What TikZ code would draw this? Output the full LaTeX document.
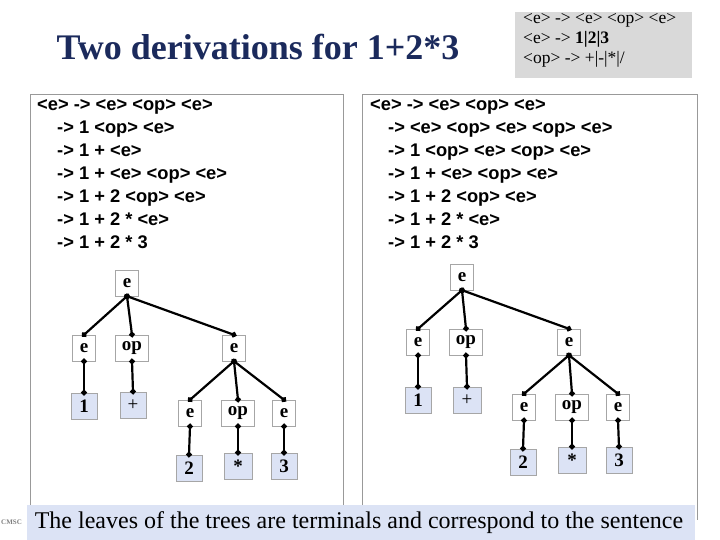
\documentclass[tikz,border=0pt]{standalone}
\usepackage{fontspec}
\setmainfont{Liberation Serif}
\setsansfont{Liberation Sans}
\usetikzlibrary{arrows.meta}
\definecolor{navy}{HTML}{1B2A5C}
\definecolor{leafblue}{HTML}{DCE3F5}
\definecolor{gbox}{HTML}{D9D9D9}
\tikzset{
  tn/.style={draw=gray!70, fill=white, inner sep=0pt, minimum height=26pt, font=\fontsize{19}{19}\selectfont\bfseries},
  en/.style={tn, minimum width=23pt},
  on/.style={tn, minimum width=33pt},
  ln/.style={tn, fill=leafblue, minimum width=26pt},
  edge/.style={line width=2.2pt, shorten <=-2.5pt, shorten >=-2.5pt, {Circle[length=5.5pt]}-{Circle[length=5.5pt]}},
  der/.style={anchor=north west, inner sep=0pt, align=left, font=\sffamily\bfseries\fontsize{18.3}{23}\selectfont},
  panel/.style={draw=gray!80, line width=1pt}
}
\begin{document}
\begin{tikzpicture}[x=1pt,y=-1pt]
\useasboundingbox (0,0) rectangle (720,540);
\fill[white] (0,0) rectangle (720,540);
\node[font=\fontsize{36}{36}\selectfont\bfseries, text=navy] (title) at (258,47) {Two derivations for 1+2*3};
\fill[gbox] (515,12) rectangle (692,78);
\node[anchor=north west, inner sep=0pt, align=left, font=\fontsize{17.5}{20}\selectfont] (gram) at (523,13) {<e> -> <e> <op> <e>\\<e> -> \textbf{1|2|3}\\<op> -> +|-|*|/};
\draw[panel] (30,510) -- (30,95) -- (343,95) -- (343,510);
\draw[panel] (362,510) -- (362,95) -- (697,95) -- (697,520);
\node[der] (dl) at (37,99) {<e> -> <e> <op> <e>\\
\hspace*{20pt}-> 1 <op> <e>\\
\hspace*{20pt}-> 1 + <e>\\
\hspace*{20pt}-> 1 + <e> <op> <e>\\
\hspace*{20pt}-> 1 + 2 <op> <e>\\
\hspace*{20pt}-> 1 + 2 * <e>\\
\hspace*{20pt}-> 1 + 2 * 3};
\node[der] (dr) at (370,99) {<e> -> <e> <op> <e>\\
\hspace*{18pt}-> <e> <op> <e> <op> <e>\\
\hspace*{18pt}-> 1 <op> <e> <op> <e>\\
\hspace*{18pt}-> 1 + <e> <op> <e>\\
\hspace*{18pt}-> 1 + 2 <op> <e>\\
\hspace*{18pt}-> 1 + 2 * <e>\\
\hspace*{18pt}-> 1 + 2 * 3};
% left tree
\node[en] (L) at (127,283) {e};
\node[en] (La) at (84,348) {e};
\node[on] (Lb) at (132,348) {op};
\node[en] (Lc) at (234,348) {e};
\node[ln] (La1) at (84,406) {1};
\node[ln, font=\fontsize{19}{19}\selectfont] (Lb1) at (133,405) {+};
\node[en] (Lca) at (190,413) {e};
\node[on] (Lcb) at (238,413) {op};
\node[en] (Lcc) at (284,413) {e};
\node[ln] (Lca1) at (189,468) {2};
\node[ln, minimum width=28pt] (Lcb1) at (238,466) {*};
\node[ln] (Lcc1) at (284,466) {3};
\foreach \p/\c in {L/La, L/Lb, L/Lc, La/La1, Lb/Lb1, Lc/Lca, Lc/Lcb, Lc/Lcc, Lca/Lca1, Lcb/Lcb1, Lcc/Lcc1}
  \draw[edge] (\p.south) -- (\c.north);
% right tree
\node[en] (R) at (462,277) {e};
\node[en] (Ra) at (418,342) {e};
\node[on] (Rb) at (466,342) {op};
\node[en] (Rc) at (569,342) {e};
\node[ln] (Ra1) at (418,400) {1};
\node[ln, minimum width=28pt, font=\fontsize{19}{19}\selectfont] (Rb1) at (467,400) {+};
\node[en] (Rca) at (524,407) {e};
\node[on] (Rcb) at (572,407) {op};
\node[en] (Rcc) at (618,407) {e};
\node[ln] (Rca1) at (523,462) {2};
\node[ln, minimum width=28pt] (Rcb1) at (572,460) {*};
\node[ln] (Rcc1) at (619,460) {3};
\foreach \p/\c in {R/Ra, R/Rb, R/Rc, Ra/Ra1, Rb/Rb1, Rc/Rca, Rc/Rcb, Rc/Rcc, Rca/Rca1, Rcb/Rcb1, Rcc/Rcc1}
  \draw[edge] (\p.south) -- (\c.north);
% banner
\fill[leafblue] (27,505) rectangle (695,540);
\node[font=\fontsize{24}{24}\selectfont] (ban) at (359,523) {The leaves of the trees are terminals and correspond to the sentence};
\node[anchor=west, inner sep=0pt, font=\fontsize{7}{7}\selectfont\bfseries, text=gray] (cms) at (1,522) {CMSC};
\end{tikzpicture}
\end{document}
